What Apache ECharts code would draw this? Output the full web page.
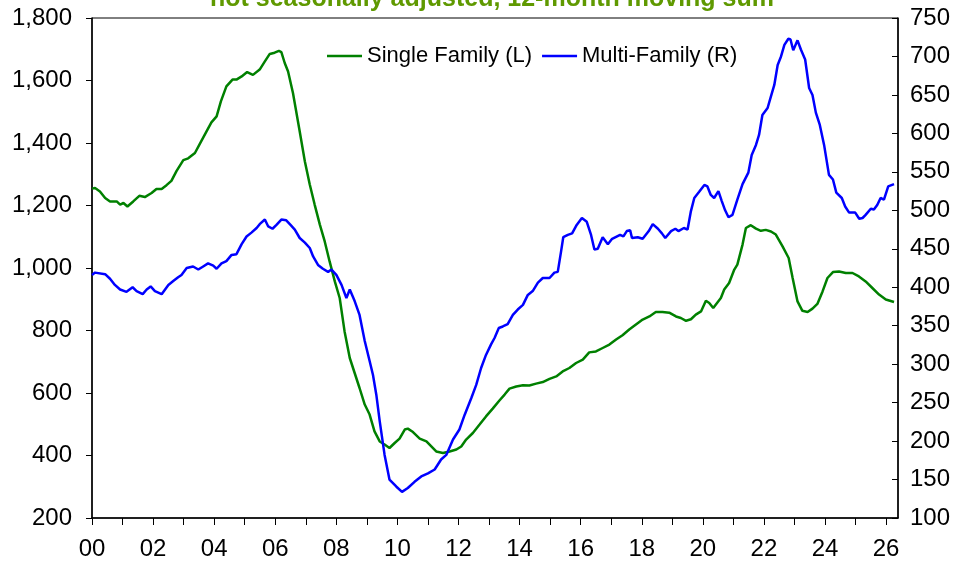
<!DOCTYPE html>
<html>
<head>
<meta charset="utf-8">
<script src="https://cdn.jsdelivr.net/npm/echarts@6/dist/echarts.min.js"></script>
<style>html,body{margin:0;padding:0;background:#fff}#c{width:959px;height:569px}</style>
</head>
<body>
<div id="c"></div>
<script>
// Years since 2000 (x) and values
const sfYears = [0.00,0.10,0.26,0.43,0.59,0.81,0.92,1.03,1.16,1.35,1.55,1.73,1.95,2.11,2.28,2.44,2.60,2.77,2.99,3.15,3.37,3.53,3.75,3.91,4.08,4.22,4.40,4.60,4.73,4.90,5.08,5.27,5.49,5.66,5.82,5.98,6.12,6.20,6.31,6.42,6.58,6.79,6.97,7.13,7.29,7.46,7.62,7.78,7.95,8.11,8.27,8.44,8.60,8.76,8.93,9.09,9.25,9.42,9.58,9.74,9.91,10.07,10.24,10.34,10.51,10.73,10.95,11.11,11.27,11.49,11.71,11.93,12.09,12.25,12.47,12.69,12.90,13.12,13.34,13.51,13.67,13.89,14.11,14.32,14.54,14.76,14.98,15.20,15.41,15.63,15.85,16.07,16.28,16.50,16.72,16.94,17.16,17.37,17.59,17.81,18.03,18.25,18.46,18.68,18.90,19.12,19.28,19.45,19.61,19.77,19.94,20.10,20.21,20.34,20.59,20.70,20.86,21.03,21.13,21.30,21.41,21.57,21.74,21.90,22.06,22.23,22.39,22.61,22.81,22.94,23.10,23.26,23.43,23.59,23.75,23.92,24.08,24.26,24.46,24.68,24.90,25.11,25.33,25.55,25.77,25.99,26.26];
const sfValues = [1254,1256,1245,1224,1213,1213,1203,1208,1197,1213,1231,1227,1240,1253,1253,1265,1279,1311,1345,1351,1368,1397,1437,1466,1485,1533,1581,1603,1603,1613,1627,1618,1635,1661,1685,1689,1695,1691,1656,1629,1560,1443,1341,1267,1203,1139,1085,1021,957,904,797,712,664,616,563,531,477,445,435,424,440,454,483,486,475,454,445,429,413,408,413,419,429,451,472,499,525,550,576,595,614,621,625,624,630,635,645,653,669,680,696,707,730,733,744,755,771,785,803,819,835,845,859,859,857,845,840,831,836,851,861,895,888,872,904,931,952,995,1011,1075,1128,1137,1126,1119,1122,1117,1107,1069,1032,968,893,863,859,870,885,925,968,987,989,984,984,973,957,936,915,899,891];

const mfYears = [0.00,0.10,0.43,0.59,0.75,0.92,1.13,1.33,1.46,1.66,1.79,1.92,2.06,2.28,2.50,2.66,2.82,2.93,3.10,3.31,3.48,3.64,3.80,3.97,4.08,4.24,4.40,4.57,4.73,4.90,5.06,5.22,5.39,5.49,5.66,5.77,5.91,6.04,6.20,6.36,6.50,6.64,6.80,6.97,7.13,7.24,7.40,7.56,7.73,7.84,8.00,8.17,8.33,8.44,8.60,8.76,8.93,9.09,9.20,9.31,9.42,9.58,9.74,9.96,10.15,10.34,10.56,10.78,11.00,11.22,11.43,11.60,11.82,12.03,12.20,12.42,12.58,12.74,12.90,13.07,13.18,13.32,13.45,13.61,13.78,13.94,14.11,14.27,14.43,14.60,14.76,14.98,15.14,15.25,15.36,15.43,15.58,15.72,15.87,16.04,16.20,16.34,16.45,16.56,16.72,16.89,17.03,17.29,17.40,17.51,17.62,17.68,17.87,18.03,18.23,18.36,18.53,18.66,18.77,18.96,19.10,19.20,19.38,19.50,19.61,19.72,19.88,20.05,20.15,20.26,20.37,20.51,20.62,20.73,20.84,20.97,21.13,21.30,21.49,21.60,21.74,21.84,21.95,22.12,22.23,22.34,22.45,22.56,22.67,22.80,22.87,22.96,23.10,23.21,23.35,23.48,23.59,23.70,23.83,23.97,24.13,24.26,24.37,24.55,24.66,24.79,24.99,25.12,25.23,25.33,25.50,25.60,25.71,25.82,25.93,26.07,26.26];
const mfValues = [416,419,417,411,403,397,394,400,395,391,397,401,395,391,403,408,413,416,425,427,423,427,431,428,424,431,434,442,443,456,466,471,477,482,488,479,476,481,488,487,481,475,464,458,451,440,429,424,420,423,416,403,386,397,382,364,330,304,286,260,226,182,150,141,134,139,147,154,158,163,176,182,202,215,234,256,273,295,312,326,334,347,349,352,364,371,377,390,395,406,412,412,419,420,447,465,468,470,481,490,485,468,449,450,465,456,463,468,466,473,474,464,465,463,473,482,476,470,464,473,476,473,477,475,499,516,524,533,531,520,516,525,512,500,491,494,514,534,549,572,585,598,624,633,648,663,689,700,715,723,722,708,721,709,696,659,650,627,611,585,546,540,523,516,505,497,497,489,490,494,502,501,507,516,514,531,534];

const xTickLabels = ['00','02','04','06','08','10','12','14','16','18','20','22','24','26'];
const seriesNames = ['Single Family (L)', 'Multi-Family (R)'];
const titleText = 'not seasonally adjusted, 12-month moving sum';

const zip = (xs, ys) => xs.map((x, i) => [x, ys[i]]);
const FONT = '"Liberation Sans", Arial, sans-serif';

const chart = echarts.init(document.getElementById('c'), null, {renderer: 'canvas'});
chart.setOption({
  animation: false,
  backgroundColor: '#fff',
  title: {
    text: titleText,
    left: 205,
    top: -18,
    textStyle: {color: '#5f9900', fontSize: 25, fontWeight: 'bold', fontFamily: FONT}
  },
  legend: {
    left: 322,
    top: 40,
    icon: 'rect',
    itemWidth: 35,
    itemHeight: 2.5,
    itemGap: 10,
    textStyle: {color: '#000', fontSize: 22, fontFamily: FONT, padding: [0, 0, 0, 0]},
    data: seriesNames
  },
  grid: {
    left: 92, right: 61, top: 18, bottom: 51,
    show: true, borderColor: '#000', borderWidth: 1, backgroundColor: 'transparent'
  },
  xAxis: {
    type: 'value',
    min: 0, max: 26.39, interval: 1,
    axisLine: {show: true, onZero: false, lineStyle: {color: '#000', width: 1.5}},
    axisTick: {show: true, inside: false, length: 7, lineStyle: {color: '#000'}},
    splitLine: {show: false},
    axisLabel: {
      color: '#000', fontSize: 24, fontFamily: FONT, margin: 19,
      showMaxLabel: false,
      formatter: v => {
        const r = Math.round(v);
        if (Math.abs(v - r) > 1e-6 || r % 2 !== 0) return '';
        return xTickLabels[r / 2] || '';
      }
    }
  },
  yAxis: [{
    type: 'value',
    min: 200, max: 1800, interval: 200,
    position: 'left',
    axisLine: {show: true, lineStyle: {color: '#000', width: 1.5}},
    axisTick: {show: true, inside: false, length: 6, lineStyle: {color: '#000'}},
    splitLine: {show: false},
    axisLabel: {color: '#000', fontSize: 24, fontFamily: FONT, margin: 20,
      formatter: v => v.toLocaleString('en-US')}
  }, {
    type: 'value',
    min: 100, max: 750, interval: 50,
    position: 'right',
    axisLine: {show: true, lineStyle: {color: '#000', width: 1.5}},
    axisTick: {show: true, inside: true, length: 6, lineStyle: {color: '#000'}},
    splitLine: {show: false},
    axisLabel: {color: '#000', fontSize: 24, fontFamily: FONT, margin: 12}
  }],
  series: [{
    name: seriesNames[0],
    type: 'line',
    yAxisIndex: 0,
    symbol: 'none',
    lineStyle: {color: '#008000', width: 2.5},
    itemStyle: {color: '#008000'},
    data: zip(sfYears, sfValues)
  }, {
    name: seriesNames[1],
    type: 'line',
    yAxisIndex: 1,
    symbol: 'none',
    lineStyle: {color: '#0000ff', width: 2.5},
    itemStyle: {color: '#0000ff'},
    data: zip(mfYears, mfValues)
  }]
});
</script>
</body>
</html>
